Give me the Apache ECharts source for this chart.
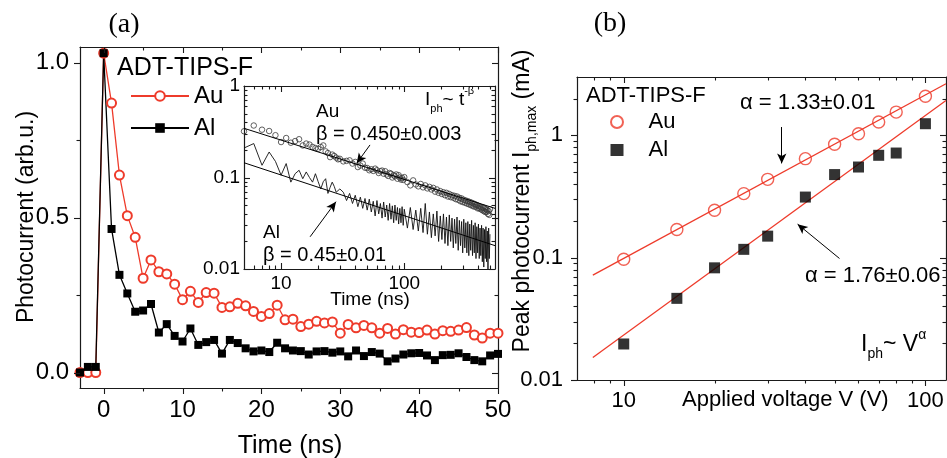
<!DOCTYPE html>
<html><head><meta charset="utf-8">
<script src="https://cdn.jsdelivr.net/npm/echarts@6/dist/echarts.min.js"></script>
<style>html,body{margin:0;padding:0;background:#fff}#c{width:947px;height:458px}</style>
</head><body><div id="c"></div>
<script>
// ---------- Panel (a): transient photocurrent ----------
const aTime = [-3,-2,-1,0,1,2,3,4,5,6,7,8,9,10,11,12,13,14,15,16,17,18,19,20,21,22,23,24,25,26,27,28,29,30,31,32,33,34,35,36,37,38,39,40,41,42,43,44,45,46,47,48,49,50];
const aAu = [0,0,0,1.03,0.869,0.637,0.506,0.436,0.304,0.363,0.325,0.318,0.285,0.235,0.262,0.226,0.258,0.256,0.21,0.212,0.223,0.215,0.197,0.181,0.19,0.217,0.17,0.172,0.148,0.156,0.165,0.16,0.163,0.127,0.155,0.144,0.152,0.144,0.127,0.142,0.124,0.138,0.13,0.129,0.137,0.124,0.135,0.133,0.137,0.145,0.121,0.111,0.127,0.127];
const aAl = [0,0.018,0.018,1.03,0.463,0.315,0.255,0.196,0.2,0.221,0.129,0.156,0.118,0.1,0.142,0.089,0.098,0.105,0.061,0.105,0.095,0.078,0.068,0.071,0.066,0.096,0.078,0.071,0.069,0.058,0.068,0.069,0.064,0.068,0.052,0.071,0.053,0.066,0.061,0.036,0.045,0.058,0.062,0.063,0.055,0.04,0.056,0.057,0.062,0.05,0.04,0.036,0.055,0.06];
const aXMajor = [0,10,20,30,40,50];
const aXMinor = [5,15,25,35,45];
const aYMajor = [0,0.5,1.0];
const aYMinor = [0.25,0.75];

// ---------- Inset: log-log decay ----------
const inT = [5,6,7,8,9,10,11,12,13,14,15,16,17,18,19,20,21,22,23,24,25,26,27,28,29,30,
  32,34,36,38,40,42,44,46,48,50,52,54,56,58,60,62,64,66,68,70,72,74,76,78,80,82,84,86,88,90,92,94,96,98,100,
  106,112,118,124,130,136,142,148,154,160,166,172,178,184,190,196,202,208,214,220,226,232,238,244,250,256,262,268,274,280,286,292,298,304,310,316,322,328,334,340,346,352,358,364,370,376,382,388,394,400,406,412,418,424,430,436,442,448,454,460,466,472,478,484,490,496];
const inAu = [0.32,0.37,0.333,0.322,0.29,0.244,0.27,0.24,0.25,0.262,0.224,0.235,0.229,0.216,0.21,0.206,0.215,0.224,0.193,0.185,0.167,0.178,0.172,0.165,0.158,0.16,
  0.15,0.152,0.154,0.142,0.148,0.13,0.135,0.142,0.128,0.127,0.12,0.123,0.118,0.125,0.12,0.112,0.117,0.119,0.11,0.117,0.108,0.104,0.112,0.11,0.1,0.106,0.103,0.108,0.097,0.106,0.1,0.095,0.099,0.094,0.101,
  0.089,0.082,0.093,0.084,0.08,0.085,0.078,0.082,0.076,0.079,0.074,0.077,0.07,0.074,0.068,0.071,0.066,0.069,0.064,0.068,0.062,0.066,0.061,0.064,0.06,0.063,0.058,0.062,0.057,0.06,0.055,0.059,0.054,0.057,0.053,0.056,0.052,0.055,0.051,0.054,0.05,0.053,0.049,0.052,0.048,0.051,0.048,0.05,0.046,0.049,0.046,0.048,0.045,0.047,0.044,0.047,0.043,0.046,0.042,0.045,0.042,0.044,0.04,0.043,0.039,0.045];
const inAl = [0.21,0.235,0.136,0.19,0.15,0.106,0.142,0.089,0.11,0.12,0.097,0.115,0.1,0.089,0.11,0.09,0.075,0.09,0.097,0.067,0.078,0.089,0.08,0.069,0.072,0.075,
  0.069,0.056,0.067,0.052,0.064,0.048,0.061,0.046,0.059,0.044,0.058,0.042,0.055,0.038,0.056,0.04,0.052,0.036,0.054,0.037,0.05,0.034,0.052,0.035,0.049,0.032,0.05,0.034,0.047,0.031,0.046,0.032,0.048,0.03,0.045,
  0.028,0.047,0.027,0.044,0.026,0.046,0.025,0.052,0.024,0.042,0.022,0.04,0.023,0.043,0.02,0.038,0.021,0.04,0.019,0.037,0.018,0.039,0.02,0.036,0.017,0.035,0.019,0.037,0.016,0.034,0.018,0.033,0.015,0.035,0.017,0.032,0.015,0.033,0.014,0.031,0.016,0.034,0.014,0.03,0.015,0.032,0.013,0.029,0.015,0.031,0.013,0.028,0.014,0.03,0.012,0.028,0.0105,0.027,0.013,0.029,0.012,0.026,0.01,0.028,0.013,0.024];
const inAuFit = [[5,0.345],[545,0.046]];
const inAlFit = [[5,0.145],[545,0.018]];
const inAuArrow = [[52.7,0.227],[41.1,0.143]];
const inAlArrow = [[17.2,0.0225],[27.9,0.0544]];
const inXMajor = [10,100];
const inXMinor = [6,7,8,9,20,30,40,50,60,70,80,90,200,300,400,500];
const inYMajor = [0.01,0.1,1];
const inYMinor = [0.02,0.03,0.04,0.05,0.06,0.07,0.08,0.09,0.2,0.3,0.4,0.5,0.6,0.7,0.8,0.9];

// ---------- Panel (b): peak photocurrent vs voltage ----------
const bV = [10,15,20,25,30,40,50,60,70,80,100];
const bAu = [0.097,0.170,0.244,0.334,0.437,0.645,0.845,1.03,1.285,1.55,2.09];
const bAl = [0.0197,0.0465,0.0826,0.117,0.150,0.313,0.478,0.551,0.687,0.717,1.245];
const bAuFit = [[7.9,0.072],[117,2.64]];
const bAlFit = [[7.9,0.0153],[117,1.93]];
const bAuArrow = [[33.4,1.17],[33.4,0.59]];
const bAlArrow = [[51.9,0.0985],[37.7,0.188]];
const bXMajor = [10,100];
const bXMinor = [8,9,20,30,40,50,60,70,80,90];
const bYMajor = [0.01,0.1,1];
const bYMinor = [0.02,0.03,0.04,0.05,0.06,0.07,0.08,0.09,0.2,0.3,0.4,0.5,0.6,0.7,0.8,0.9,2];

const FONT = 'Liberation Sans, Arial, Helvetica, sans-serif';
const SERIF = 'Liberation Serif, Times New Roman, serif';
const RED = '#ee3b2b';
const AX = '#1a1a1a';

function zip(xs, ys) { return xs.map((x, i) => [x, ys[i]]); }
function fmtLog(v) { return String(+(+v).toPrecision(3)); }

function axis(extra, label) {
  const o = Object.assign({
    axisLine: {show: true, onZero: false, lineStyle: {color: AX, width: 1.2}},
    axisTick: {show: false}, splitLine: {show: false}, minorTick: {show: false},
    axisLabel: {show: false}
  }, extra);
  if (label) o.axisLabel = Object.assign({show: true, color: '#000', fontFamily: FONT}, label);
  return o;
}

// tick item: [xValue, yValue, isY, length, outward]
function ticks(xMaj, xMin, yMaj, yMin, yRef, xRef, out) {
  const d = [];
  xMaj.forEach(v => d.push([v, yRef, 0, 6, out]));
  xMin.forEach(v => d.push([v, yRef, 0, 3.5, out]));
  yMaj.forEach(v => d.push([xRef, v, 1, 6, out]));
  yMin.forEach(v => d.push([xRef, v, 1, 3.5, out]));
  return d;
}
function tickRender(params, api) {
  const cs = params.coordSys;
  const p = api.coord([api.value(0), api.value(1)]);
  const isY = api.value(2) === 1, len = api.value(3), out = api.value(4) === 1;
  const st = {stroke: AX, lineWidth: 1.1};
  if (!isY) {
    const x = Math.round(p[0]) + 0.5, yb = cs.y + cs.height, yt = cs.y;
    return {type: 'group', children: [
      {type: 'line', shape: {x1: x, y1: yb, x2: x, y2: out ? yb + len : yb - len}, style: st},
      {type: 'line', shape: {x1: x, y1: yt, x2: x, y2: yt + len}, style: st}]};
  }
  const y = Math.round(p[1]) + 0.5, xl = cs.x, xr = cs.x + cs.width;
  return {type: 'group', children: [
    {type: 'line', shape: {x1: xl, y1: y, x2: out ? xl - len : xl + len, y2: y}, style: st},
    {type: 'line', shape: {x1: xr, y1: y, x2: xr - len, y2: y}, style: st}]};
}
function tickSeries(ai, data) {
  return {type: 'custom', xAxisIndex: ai, yAxisIndex: ai, encode: {x: 0, y: 1}, renderItem: tickRender,
    data: data, silent: true, clip: false, z: 20};
}
function arrow(pts) {
  return {silent: true, symbol: ['none', 'arrow'], symbolSize: [7, 10], animation: false,
    lineStyle: {color: '#000', width: 1, type: 'solid'}, label: {show: false},
    emphasis: {disabled: true},
    data: [[{coord: pts[0]}, {coord: pts[1]}]]};
}
function txt(x, y, text, size, o) {
  o = o || {};
  const e = {type: 'text', x: x, y: y, z: 100, silent: true,
    style: {text: text, fontSize: size, fontFamily: o.family || FONT, fill: '#000',
      textAlign: o.align || 'left', textVerticalAlign: 'middle'}};
  if (o.rich) e.style.rich = o.rich;
  if (o.rotation) e.rotation = o.rotation;
  return e;
}
function richSet(size) {
  return {
    m: {fontSize: size, fontFamily: FONT, fill: '#000', lineHeight: size + 10},
    s: {fontSize: Math.round(size * 0.6), fontFamily: FONT, fill: '#000', lineHeight: Math.round(size * 0.6), verticalAlign: 'bottom'},
    p: {fontSize: Math.round(size * 0.6), fontFamily: FONT, fill: '#000', lineHeight: Math.round(size * 0.6), verticalAlign: 'top'}
  };
}

const chart = echarts.init(document.getElementById('c'), null, {renderer: 'canvas'});
chart.setOption({
  animation: false,
  backgroundColor: '#fff',
  grid: [
    {left: 80, top: 47, width: 418, height: 341},
    {left: 244, top: 86, width: 251, height: 183, show: true, backgroundColor: '#fff', borderWidth: 0},
    {left: 577, top: 77, width: 369, height: 303}
  ],
  xAxis: [
    axis({gridIndex: 0, type: 'value', min: -3, max: 50, position: 'bottom'},
      {customValues: aXMajor, fontSize: 24, margin: 10}),
    axis({gridIndex: 0, type: 'value', min: -3, max: 50, position: 'top'}),
    axis({gridIndex: 1, type: 'log', logBase: 10, min: 5, max: 545, position: 'bottom'},
      {fontSize: 19, margin: 5, showMinLabel: false, showMaxLabel: false, formatter: fmtLog}),
    axis({gridIndex: 1, type: 'log', logBase: 10, min: 5, max: 545, position: 'top'}),
    axis({gridIndex: 2, type: 'log', logBase: 10, min: 7, max: 117, position: 'bottom'},
      {fontSize: 22, margin: 10, showMinLabel: false, showMaxLabel: false, formatter: fmtLog}),
    axis({gridIndex: 2, type: 'log', logBase: 10, min: 7, max: 117, position: 'top'})
  ],
  yAxis: [
    axis({gridIndex: 0, type: 'value', min: -0.05, max: 1.05, position: 'left'},
      {customValues: aYMajor, fontSize: 24, margin: 11, formatter: v => (+v).toFixed(1)}),
    axis({gridIndex: 0, type: 'value', min: -0.05, max: 1.05, position: 'right'}),
    axis({gridIndex: 1, type: 'log', logBase: 10, min: 0.01, max: 1, position: 'left'},
      {fontSize: 19, margin: 4, formatter: fmtLog}),
    axis({gridIndex: 1, type: 'log', logBase: 10, min: 0.01, max: 1, position: 'right'}),
    axis({gridIndex: 2, type: 'log', logBase: 10, min: 0.01, max: 3, position: 'left'},
      {fontSize: 22, margin: 14, showMaxLabel: false, formatter: fmtLog}),
    axis({gridIndex: 2, type: 'log', logBase: 10, min: 0.01, max: 3, position: 'right'})
  ],
  legend: [
    {data: ['Au', 'Al'], orient: 'vertical', left: 125, top: 79, itemWidth: 58, itemHeight: 12, itemGap: 8,
      selectedMode: false, textStyle: {fontSize: 24, fontFamily: FONT, color: '#000', lineHeight: 24}},
    {data: ['Au(b)', 'Al(b)'], formatter: n => n.slice(0, 2), orient: 'vertical', left: 605, top: 106,
      itemWidth: 13, itemHeight: 12, itemGap: 6, selectedMode: false,
      textStyle: {fontSize: 22, fontFamily: FONT, color: '#000', lineHeight: 22, padding: [0, 0, 0, 20]}}
  ],
  series: [
    {name: 'Au', type: 'line', xAxisIndex: 0, yAxisIndex: 0, data: zip(aTime, aAu),
      symbol: 'emptyCircle', symbolSize: 9, lineStyle: {color: RED, width: 1.3},
      itemStyle: {color: RED, borderWidth: 1.2}},
    {name: 'Al', type: 'line', xAxisIndex: 0, yAxisIndex: 0, data: zip(aTime, aAl),
      symbol: 'rect', symbolSize: 8, lineStyle: {color: '#000', width: 1.3}, itemStyle: {color: '#000'}},

    {name: 'Au inset', type: 'scatter', xAxisIndex: 2, yAxisIndex: 2, data: zip(inT, inAu),
      symbol: 'circle', symbolSize: 5.5, itemStyle: {color: 'rgba(0,0,0,0)', borderColor: '#3a3a3a', borderWidth: 1}},
    {name: 'Al inset', type: 'line', xAxisIndex: 2, yAxisIndex: 2, data: zip(inT, inAl),
      symbol: 'none', lineStyle: {color: '#111', width: 0.9}},
    {name: 'Au inset fit', type: 'line', xAxisIndex: 2, yAxisIndex: 2, data: inAuFit, symbol: 'none',
      lineStyle: {color: '#000', width: 1}, markLine: arrow(inAuArrow)},
    {name: 'Al inset fit', type: 'line', xAxisIndex: 2, yAxisIndex: 2, data: inAlFit, symbol: 'none',
      lineStyle: {color: '#000', width: 1}, markLine: arrow(inAlArrow)},

    {name: 'Au fit', type: 'line', xAxisIndex: 4, yAxisIndex: 4, data: bAuFit, symbol: 'none',
      lineStyle: {color: RED, width: 1.3}, markLine: arrow(bAuArrow)},
    {name: 'Al fit', type: 'line', xAxisIndex: 4, yAxisIndex: 4, data: bAlFit, symbol: 'none',
      lineStyle: {color: RED, width: 1.3}, markLine: arrow(bAlArrow)},
    {name: 'Au(b)', type: 'scatter', xAxisIndex: 4, yAxisIndex: 4, data: zip(bV, bAu), z: 5,
      symbol: 'circle', symbolSize: 12, itemStyle: {color: 'rgba(255,255,255,0)', borderColor: RED, borderWidth: 1.4}},
    {name: 'Al(b)', type: 'scatter', xAxisIndex: 4, yAxisIndex: 4, data: zip(bV, bAl), z: 5,
      symbol: 'rect', symbolSize: 11, itemStyle: {color: '#000'}},

    tickSeries(0, ticks(aXMajor, aXMinor, aYMajor, aYMinor, 0.5, 10, 1)),
    tickSeries(2, ticks(inXMajor, inXMinor, inYMajor, inYMinor, 0.1, 10, 0)),
    tickSeries(4, ticks(bXMajor, bXMinor, bYMajor, bYMinor, 0.1, 10, 1))
  ],
  graphic: [
    txt(124, 25, '(a)', 28, {family: SERIF, align: 'center'}),
    txt(610, 24, '(b)', 28, {family: SERIF, align: 'center'}),
    txt(117, 68, 'ADT-TIPS-F', 25),
    txt(27, 217, 'Photocurrent (arb.u.)', 23, {align: 'center', rotation: Math.PI / 2}),
    txt(290, 446, 'Time (ns)', 25, {align: 'center'}),
    txt(370, 300, 'Time (ns)', 19, {align: 'center'}),
    txt(316, 112, 'Au', 19),
    txt(316, 134, 'β = 0.450±0.003', 20),
    txt(425, 100, '{m|I}{s|ph}{m|~ t}{p|-β}', 19, {rich: richSet(19)}),
    txt(263, 233, 'Al', 19),
    txt(263, 255, 'β = 0.45±0.01', 20),
    txt(586, 96, 'ADT-TIPS-F', 22),
    txt(740, 103, 'α = 1.33±0.01', 22),
    txt(805, 276, 'α = 1.76±0.06', 22),
    txt(861, 345, '{m|I}{s|ph}{m|~ V}{p|α}', 23, {rich: richSet(23)}),
    txt(523, 201, '{m|Peak photocurrent I}{s|ph,max}{m| (mA)}', 23, {align: 'center', rotation: Math.PI / 2, rich: richSet(23)}),
    txt(682, 400, 'Applied voltage V (V)', 22)
  ]
});
</script></body></html>
